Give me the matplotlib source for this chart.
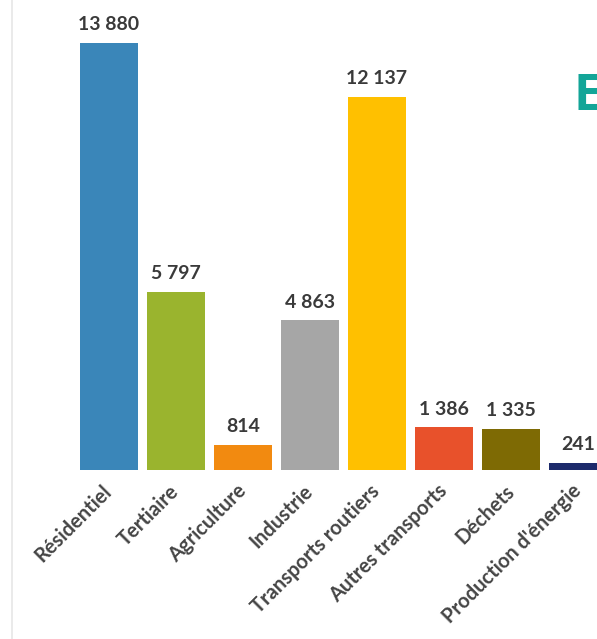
import matplotlib.pyplot as plt
from matplotlib.lines import Line2D

# émissions par secteur
secteurs = ['Résidentiel', 'Tertiaire', 'Agriculture', 'Industrie',
            'Transports routiers', 'Autres transports', 'Déchets',
            "Production d'énergie"]
valeurs = [13880, 5797, 814, 4863, 12137, 1386, 1335, 241]
couleurs = ['#3A86B9', '#9AB42E', '#F28A10', '#A6A6A6',
            '#FFC000', '#E8512B', '#7E6A04', '#1C2A6B']

W, H = 597, 639
fig = plt.figure(figsize=(W / 100, H / 100), dpi=100)

base = 470  # ligne de base en pixels depuis le haut
ppu = 427 / 13880  # pixels par unité
ax = fig.add_axes([0, (H - base) / H, 1, base / H])
x = list(range(len(valeurs)))
ax.bar(x, valeurs, width=0.866, color=couleurs)
ax.set_xlim(-109 / 67, (W - 109) / 67)
ax.set_ylim(0, base / ppu)

for xi, v in zip(x, valeurs):
    lab = f'{v:,}'.replace(',', '\u00a0')
    ax.annotate(lab, (xi, v), xytext=(0, 7), textcoords='offset points',
                ha='center', va='bottom', fontsize=14, fontweight='bold',
                color='#3a3a3a', family=['Lato', 'DejaVu Sans'])

ax.set_xticks(x)
ax.set_xticklabels(secteurs, rotation=45, ha='right', va='center',
                   rotation_mode='anchor', fontsize=14.5, fontweight='bold',
                   color='#454545', family=['Lato', 'DejaVu Sans'])
ax.tick_params(axis='x', length=0, pad=13)
ax.set_yticks([])
for s in ax.spines.values():
    s.set_visible(False)

# trait vertical gris à gauche
fig.add_artist(Line2D([11.5 / W, 11.5 / W], [0, 1], color='#e6e6e6',
                      lw=1.2, transform=fig.transFigure))

# lettre du titre coupée à droite
fig.text(573 / W, 1 - 97 / H, 'E', color='#13A598', fontsize=36,
         fontweight='bold', va='center', ha='left',
         family=['Open Sans', 'DejaVu Sans'])

fig.savefig('out.png', dpi=100)
